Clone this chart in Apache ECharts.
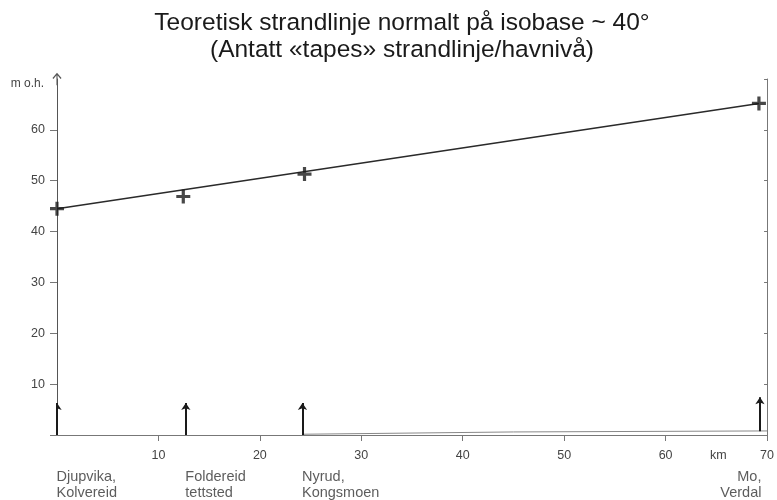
<!DOCTYPE html>
<html>
<head>
<meta charset="utf-8">
<script src="https://cdn.jsdelivr.net/npm/echarts@6/dist/echarts.min.js"></script>
<style>html,body{margin:0;padding:0;background:#fff}#c{width:777px;height:500px}</style>
</head>
<body>
<div id="c"></div>
<script>
var titleLines = ['Teoretisk strandlinje normalt på isobase ~ 40°', '(Antatt «tapes» strandlinje/havnivå)'];
var stationNames = ['Djupvika,\nKolvereid', 'Foldereid\ntettsted', 'Nyrud,\nKongsmoen', 'Mo,\nVerdal'];
var stationKm = [0, 12.7, 24.2, 69.3];
var arrowBase = [0, 0, 0, 0.75];
var arrowTop = [6.3, 6.3, 6.3, 7.4];
var pointKm = [0, 12.45, 24.4, 69.2];
var pointHeight = [44.5, 46.9, 51.3, 65.2];
var trendLine = [[0, 44.5], [69.2, 65.2]];
var tapesBaseLine = [[24.2, 0.15], [45, 0.6], [70, 0.8]];
var xTicks = [10, 20, 30, 40, 50, 60, 70];
var xUnitLabel = 'km';
var xUnitLabelAt = 65.2;
var yTicksLeft = [0, 10, 20, 30, 40, 50, 60];
var yLabels = [10, 20, 30, 40, 50, 60];
var yTicksRight = [10, 20, 30, 40, 50, 60, 70];

var chart = echarts.init(document.getElementById('c'), null, {renderer: 'canvas'});
var axisGray = '#777';
var font = 'Liberation Sans, Arial, sans-serif';

var plusPath = 'path://M0,5.4 L14,5.4 L14,8.6 L0,8.6 Z M5.4,0 L8.6,0 L8.6,14 L5.4,14 Z';
var arrowPath = 'path://M5,0 L10,6 L9,7 L5.6,2.8 L5.6,14 L4.4,14 L4.4,2.8 L1,7 L0,6 Z';

var last = stationKm.length - 1;

chart.setOption({
  animation: false,
  backgroundColor: '#fff',
  textStyle: {fontFamily: font},
  title: {
    text: titleLines.join('\n'),
    left: 397,
    top: 5,
    textAlign: 'center',
    textStyle: {fontSize: 24.5, fontWeight: 'normal', color: '#1a1a1a', lineHeight: 27, fontFamily: font}
  },
  grid: {left: 57, right: 5, top: 79, bottom: 65, containLabel: false},
  xAxis: {
    type: 'value', min: 0, max: 70, interval: 10,
    axisLine: {show: true, onZero: false, lineStyle: {color: axisGray, width: 1}},
    axisTick: {show: true, length: 6, customValues: xTicks, lineStyle: {color: axisGray}},
    axisLabel: {
      customValues: xTicks.concat([xUnitLabelAt]), color: '#444', fontSize: 12.5, margin: 14,
      formatter: function (v) { return v === xUnitLabelAt ? xUnitLabel : String(v); }
    },
    splitLine: {show: false}
  },
  yAxis: [{
    type: 'value', min: 0, max: 70, interval: 10, position: 'left',
    name: 'm o.h.', nameLocation: 'end', nameGap: -5,
    nameTextStyle: {color: '#444', fontSize: 12, align: 'right', verticalAlign: 'middle', padding: [0, 13, 0, 0]},
    axisLine: {show: true, symbol: ['none', arrowPath], symbolSize: [9, 14], lineStyle: {color: '#555', width: 1}},
    axisTick: {show: true, length: 7, customValues: yTicksLeft, lineStyle: {color: axisGray}},
    axisLabel: {customValues: yLabels, color: '#444', fontSize: 12.5, margin: 12},
    splitLine: {show: false}
  }, {
    type: 'value', min: 0, max: 70, interval: 10, position: 'right',
    axisLine: {show: true, lineStyle: {color: axisGray, width: 1}},
    axisTick: {show: true, inside: true, length: 3, customValues: yTicksRight, lineStyle: {color: axisGray}},
    axisLabel: {show: false},
    splitLine: {show: false}
  }],
  series: [
    {
      type: 'line', data: trendLine, showSymbol: false, symbol: 'none',
      lineStyle: {color: '#2a2a2a', width: 1.5}, z: 3
    },
    {
      type: 'line', data: tapesBaseLine, showSymbol: false, symbol: 'none',
      lineStyle: {color: '#888', width: 1}, z: 2
    },
    {
      type: 'scatter',
      data: pointKm.map(function (x, i) { return [x, pointHeight[i]]; }),
      symbol: plusPath, symbolSize: 14,
      itemStyle: {color: '#1a1a1a'}, z: 4
    },
    {
      type: 'lines', coordinateSystem: 'cartesian2d', polyline: false,
      data: stationKm.map(function (x, i) { return {coords: [[x, arrowBase[i]], [x, arrowTop[i]]]}; }),
      symbol: ['none', 'arrow'], symbolSize: 7,
      lineStyle: {color: '#1a1a1a', width: 2, opacity: 1}, z: 5
    },
    {
      type: 'scatter',
      data: stationKm.map(function (x, i) {
        return {
          value: [x, 0],
          label: {
            position: [i === last ? 2 : 0, 34.5],
            align: i === last ? 'right' : 'left'
          }
        };
      }),
      symbolSize: 1,
      itemStyle: {color: 'rgba(0,0,0,0)'},
      label: {
        show: true, verticalAlign: 'top',
        color: '#333', fontSize: 14.5, lineHeight: 16, fontFamily: font,
        formatter: function (p) { return stationNames[p.dataIndex]; }
      },
      labelLayout: {hideOverlap: false},
      z: 6, silent: true
    }
  ]
});
</script>
</body>
</html>
